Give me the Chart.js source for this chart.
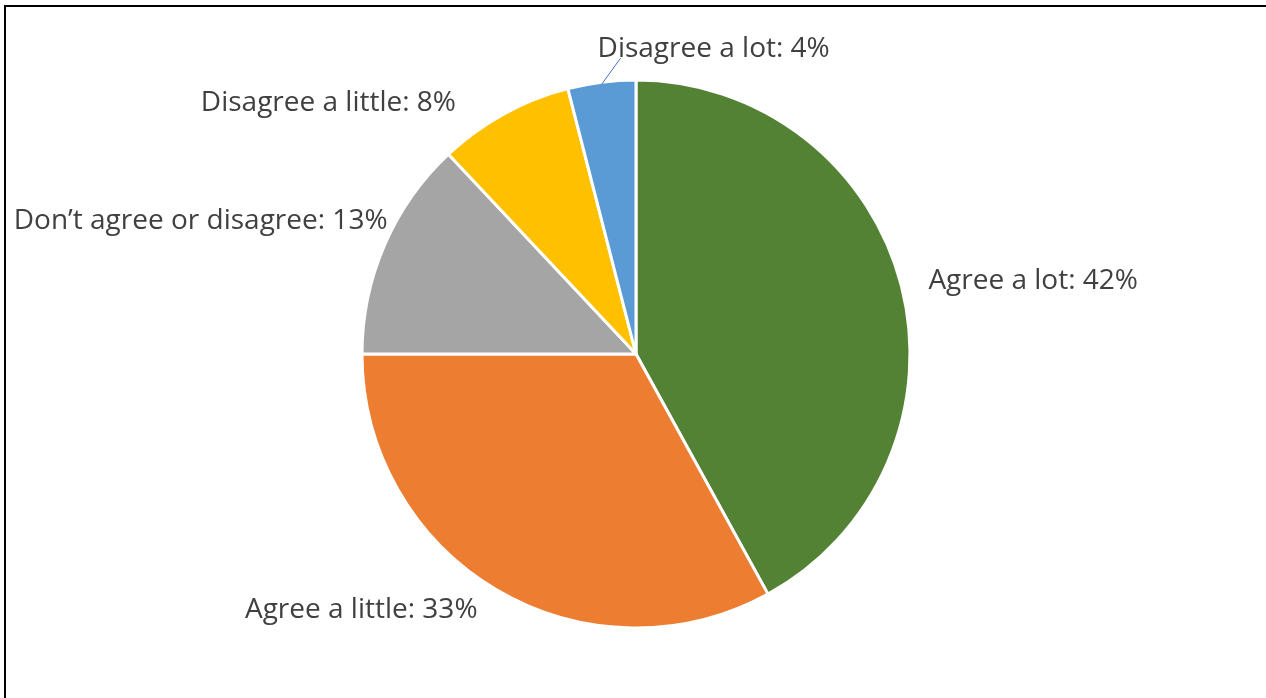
<!DOCTYPE html>
<html>
<head>
<meta charset="utf-8">
<script src="https://cdn.jsdelivr.net/npm/chart.js@4.4.1/dist/chart.umd.min.js"></script>
<style>
html,body{margin:0;padding:0;background:#fff;}
#wrap{width:1266px;height:698px;position:relative;}
</style>
</head>
<body>
<div id="wrap"><canvas id="pie"></canvas></div>
<script>
// answers, clockwise from 12 o'clock
var labels = ['Agree a lot', 'Agree a little', 'Don\u2019t agree or disagree', 'Disagree a little', 'Disagree a lot'];
var values = [42, 33, 13, 8, 4];
var colors = ['#548235', '#ED7D31', '#A5A5A5', '#FFC000', '#5B9BD5'];

// where each label sits relative to the outer edge of its slice
var labelPlace = [
  {dx: 27, dy: -5, align: 'left'},
  {dx: -19, dy: 20, align: 'right'},
  {dx: 3, dy: -24, align: 'right'},
  {dx: -48, dy: -11, align: 'right'},
  {dx: 112, dy: -33, align: 'center', leader: true}
];

var frame = {
  id: 'frame',
  beforeDraw: function(chart){
    var ctx = chart.ctx;
    ctx.save();
    ctx.strokeStyle = '#000';
    ctx.lineWidth = 2;
    ctx.beginPath();
    ctx.moveTo(5, 720);
    ctx.lineTo(5, 6);
    ctx.lineTo(1300, 6);
    ctx.stroke();
    ctx.restore();
  }
};

var sliceLabels = {
  id: 'sliceLabels',
  afterDraw: function(chart){
    var ctx = chart.ctx;
    var arcs = chart.getDatasetMeta(0).data;
    ctx.save();
    ctx.font = '28px "Open Sans", sans-serif';
    ctx.fillStyle = '#404040';
    ctx.textBaseline = 'middle';
    arcs.forEach(function(arc, i){
      var mid = (arc.startAngle + arc.endAngle) / 2;
      var ex = arc.x + Math.cos(mid) * arc.outerRadius;
      var ey = arc.y + Math.sin(mid) * arc.outerRadius;
      var p = labelPlace[i];
      var tx = ex + p.dx, ty = ey + p.dy;
      var text = labels[i] + ': ' + values[i] + '%';
      ctx.textAlign = p.align;
      ctx.fillText(text, tx, ty);
      if (p.leader) {
        var w = ctx.measureText(text).width;
        ctx.strokeStyle = '#4472C4';
        ctx.lineWidth = 1;
        ctx.beginPath();
        ctx.moveTo(arc.x + Math.cos(mid) * (arc.outerRadius - 1), arc.y + Math.sin(mid) * (arc.outerRadius - 1) + 1);
        ctx.lineTo(tx - w / 2 + 23, ty + 9);
        ctx.stroke();
      }
    });
    ctx.restore();
  }
};

new Chart(document.getElementById('pie'), {
  type: 'pie',
  data: {
    labels: labels,
    datasets: [{
      data: values,
      backgroundColor: colors,
      borderColor: '#fff',
      borderWidth: 3,
      radius: 274
    }]
  },
  options: {
    responsive: true,
    maintainAspectRatio: false,
    animation: false,
    layout: {padding: {left: 6, top: 10}},
    plugins: {
      legend: {display: false},
      tooltip: {enabled: false}
    }
  },
  plugins: [frame, sliceLabels]
});
</script>
</body>
</html>
